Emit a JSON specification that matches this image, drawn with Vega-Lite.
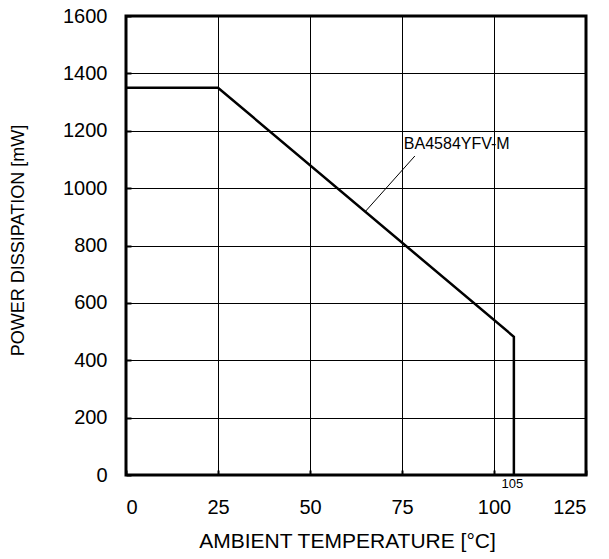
{
  "$schema": "https://vega.github.io/schema/vega-lite/v6.json",
  "width": 460,
  "height": 459,
  "autosize": "none",
  "padding": {"left": 126, "top": 16, "right": 23, "bottom": 84},
  "background": "white",
  "config": {
    "font": "Liberation Sans",
    "view": {"stroke": "black", "strokeWidth": 3},
    "axis": {
      "labelFont": "Liberation Sans",
      "titleFont": "Liberation Sans",
      "labelFontSize": 20,
      "titleFontSize": 18,
      "titleFontWeight": "normal",
      "labelColor": "black",
      "titleColor": "black",
      "grid": true,
      "gridColor": "black",
      "gridWidth": 1,
      "gridOpacity": 1,
      "domain": false,
      "tickColor": "black",
      "tickWidth": 2,
      "tickSize": -5,
      "format": "d"
    }
  },
  "datasets": {
    "curve": [
      {"t": 0, "p": 1350},
      {"t": 25, "p": 1350},
      {"t": 105.4, "p": 482},
      {"t": 105.4, "p": 0}
    ],
    "leader": [
      {"t": 65, "p": 918},
      {"t": 78.5, "p": 1112}
    ],
    "label": [
      {"t": 75.5, "p": 1138, "text": "BA4584YFV-M"}
    ],
    "mark105": [
      {"t": 105, "p": 0, "text": "105"}
    ]
  },
  "layer": [
    {
      "data": {"name": "curve"},
      "mark": {"type": "line", "color": "black", "strokeWidth": 2.5, "clip": true},
      "encoding": {
        "x": {
          "field": "t", "type": "quantitative",
          "scale": {"domain": [0, 125], "nice": false},
          "axis": {"values": [0, 25, 50, 75, 100, 125], "title": "AMBIENT TEMPERATURE [°C]", "titleFontSize": 21, "labelPadding": 27, "titleX": 221, "titleY": 66, "titleBaseline": "middle"}
        },
        "y": {
          "field": "p", "type": "quantitative",
          "scale": {"domain": [0, 1600], "nice": false},
          "axis": {"values": [0, 200, 400, 600, 800, 1000, 1200, 1400, 1600], "title": "POWER DISSIPATION [mW]", "labelPadding": 24, "titleX": -108, "titleY": 224, "titleBaseline": "middle", "titleAlign": "center"}
        },
        "order": {"value": 0}
      }
    },
    {
      "data": {"name": "leader"},
      "mark": {"type": "line", "color": "black", "strokeWidth": 1},
      "encoding": {
        "x": {"field": "t", "type": "quantitative"},
        "y": {"field": "p", "type": "quantitative"}
      }
    },
    {
      "data": {"name": "label"},
      "mark": {"type": "text", "align": "left", "baseline": "alphabetic", "fontSize": 16, "color": "black", "font": "Liberation Sans"},
      "encoding": {
        "x": {"field": "t", "type": "quantitative"},
        "y": {"field": "p", "type": "quantitative"},
        "text": {"field": "text"}
      }
    },
    {
      "data": {"name": "mark105"},
      "mark": {"type": "text", "align": "center", "baseline": "top", "fontSize": 13, "color": "black", "dy": 3, "font": "Liberation Sans"},
      "encoding": {
        "x": {"field": "t", "type": "quantitative"},
        "y": {"field": "p", "type": "quantitative"},
        "text": {"field": "text"}
      }
    }
  ]
}
